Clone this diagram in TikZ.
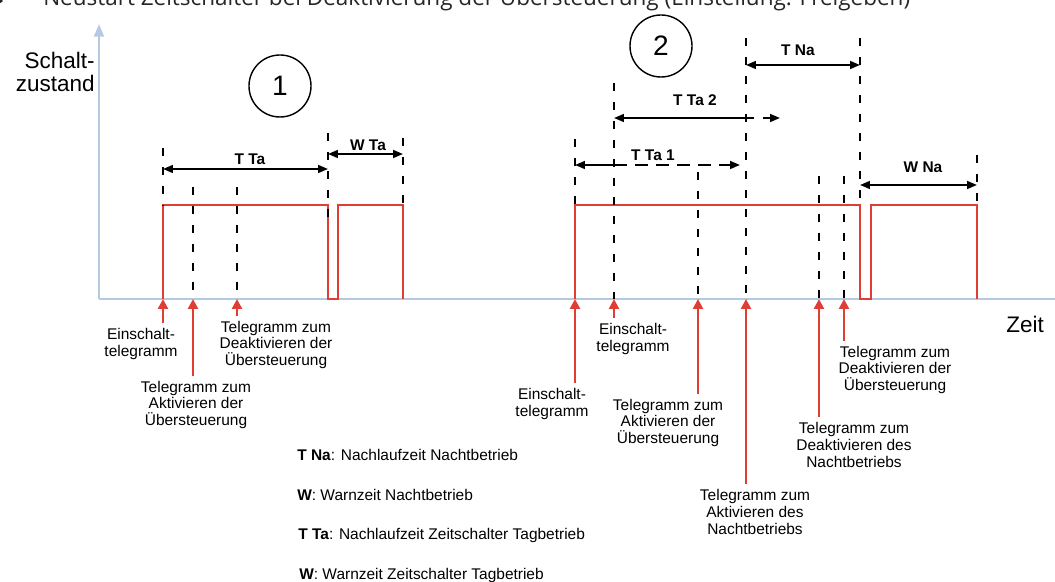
\documentclass[tikz,border=0pt]{standalone}
\usepackage{fontspec}
\setmainfont{Liberation Sans}
\newfontfamily\headfont{Open Sans}
\usetikzlibrary{arrows.meta}

\definecolor{axisblue}{RGB}{182,201,226}
\definecolor{pulsered}{RGB}{224,62,52}

\tikzset{
  guide/.style={black, line width=1.5pt, dash pattern=on 5.5pt off 8pt},
  pulse/.style={pulsered, line width=1.4pt},
  trigger/.style={pulsered, line width=1.8pt, -{Triangle[length=7pt,width=7pt]}},
  dimline/.style={black, line width=1.4pt},
  dimtxt/.style={font=\fontsize{11}{12}\selectfont\bfseries},
  tglabel/.style={align=center, font=\fontsize{11}{12}\selectfont},
  legend/.style={anchor=west, font=\fontsize{11}{13}\selectfont, inner sep=0pt},
  phase/.style={circle, draw, line width=1pt, minimum size=1.55cm, inner sep=0pt, font=\fontsize{20}{24}\selectfont},
  bigtxt/.style={font=\fontsize{16}{16}\selectfont}
}

\begin{document}
\begin{tikzpicture}[x=0.025cm, y=-0.025cm, >={Triangle[length=7pt,width=5.5pt]}]
  \useasboundingbox (0,0) rectangle (1055,582);

  % ----- Heading (cut at the top) -----
  \fill[black!85] (-10,-9) -- (3,1) -- (-10,11) -- cycle;
  \node[anchor=base west, inner sep=0pt, text=black!85, font=\headfont\fontsize{16}{19}\selectfont] (title) at (43,6)
    {Neustart Zeitschalter bei Deaktivierung der Übersteuerung (Einstellung: Freigeben)};

  % ----- Axes -----
  \draw[axisblue, line width=1.7pt, -{Triangle[length=9pt,width=7pt]}] (99,299) -- (99,24);
  \draw[axisblue, line width=1.7pt] (99,299) -- (1055,299);
  \node[bigtxt, align=right, anchor=east, inner sep=0pt] (ylab) at (95,72) {Schalt-\\zustand};
  \node[bigtxt] (xlab) at (1025,324) {Zeit};

  % ----- Switching state -----
  \draw[pulse] (163,299) -- (163,205) -- (328,205) -- (328,299) -- (338,299) -- (338,205) -- (403,205) -- (403,299);
  \draw[pulse] (575,299) -- (575,205) -- (860,205) -- (860,299) -- (871,299) -- (871,205) -- (977,205) -- (977,299);

  % ----- Guide lines -----
  \foreach \x/\ya/\yb in {163/148/205, 193/187/299, 237/187/299, 328/133/217, 403/138/205,
                          575/139/205, 614/83/299, 698/172/299, 746/38/299, 819/176/299,
                          844/176/299, 860/38/203, 977/155/205}
    \draw[guide] (\x,\ya) -- (\x,\yb);

  % ----- Case 1 -----
  \node[phase] (c1) at (280,86) {1};
  \draw[dimline, <->] (163,169) -- (328,169);
  \node[dimtxt] (tta) at (250,159) {T Ta};
  \draw[dimline, <->] (328,154) -- (403,154);
  \node[dimtxt] (wta) at (368,145) {W Ta};

  \coordinate (evA) at (163,299);
  \coordinate (evB) at (193,299);
  \coordinate (evC) at (237,299);
  \node[tglabel] (einA) at (141,344) {Einschalt-\\telegramm};
  \node[tglabel] (aktA) at (196,405) {Telegramm zum\\Aktivieren der\\Übersteuerung};
  \node[tglabel] (deaA) at (276,345) {Telegramm zum\\Deaktivieren der\\Übersteuerung};
  \draw[trigger] (evA |- einA.north) -- (evA);
  \draw[trigger] (evB |- aktA.north) -- (evB);
  \draw[trigger] (evC |- deaA.north) -- (evC);

  % ----- Case 2 -----
  \node[phase] (c2) at (661,46) {2};
  \draw[dimline, <->] (746,65) -- (860,65);
  \node[dimtxt] (tna) at (798,50) {T Na};
  \draw[dimline, <-] (614,118) -- (746,118);
  \draw[dimline, ->, dash pattern=on 5.7pt off 6.4pt] (746,118) -- (780,118);
  \node[dimtxt] (tta2) at (695,100) {T Ta 2};
  \draw[dimline, <-] (575,165) -- (614,165);
  \draw[dimline, ->, dash pattern=on 9pt off 6pt] (614,165) -- (740,165);
  \node[dimtxt] (tta1) at (653,155) {T Ta 1};
  \draw[dimline, <->] (860,185) -- (977,185);
  \node[dimtxt] (wna) at (923,167) {W Na};

  \coordinate (evD) at (575,299);
  \coordinate (evE) at (614,299);
  \coordinate (evF) at (698,299);
  \coordinate (evG) at (746,299);
  \coordinate (evH) at (819,299);
  \coordinate (evI) at (844,299);
  \node[tglabel] (einB) at (552,404) {Einschalt-\\telegramm};
  \node[tglabel] (einC) at (633,339) {Einschalt-\\telegramm};
  \node[tglabel] (aktB) at (668,423) {Telegramm zum\\Aktivieren der\\Übersteuerung};
  \node[tglabel] (nacA) at (755,512) {Telegramm zum\\Aktivieren des\\Nachtbetriebs};
  \node[tglabel] (nacD) at (854,445) {Telegramm zum\\Deaktivieren des\\Nachtbetriebs};
  \node[tglabel] (deaB) at (895,370) {Telegramm zum\\Deaktivieren der\\Übersteuerung};
  \draw[trigger] (evD |- einB.north) -- (evD);
  \draw[trigger] (evE |- einC.north) -- (evE);
  \draw[trigger] (evF |- aktB.north) -- (evF);
  \draw[trigger] (evG |- nacA.north) -- (evG);
  \draw[trigger] (evH |- nacD.north) -- (evH);
  \draw[trigger] (evI |- deaB.north) -- (evI);

  % ----- Legend -----
  \node[legend] (leg1) at (297,455) {\textbf{T Na}: Nachlaufzeit Nachtbetrieb};
  \node[legend] (leg2) at (297,495) {\textbf{W}: Warnzeit Nachtbetrieb};
  \node[legend] (leg3) at (298,536) {\textbf{T Ta}: Nachlaufzeit Zeitschalter Tagbetrieb};
  \node[legend] (leg4) at (299,576) {\textbf{W}: Warnzeit Zeitschalter Tagbetrieb};
\end{tikzpicture}
\end{document}
